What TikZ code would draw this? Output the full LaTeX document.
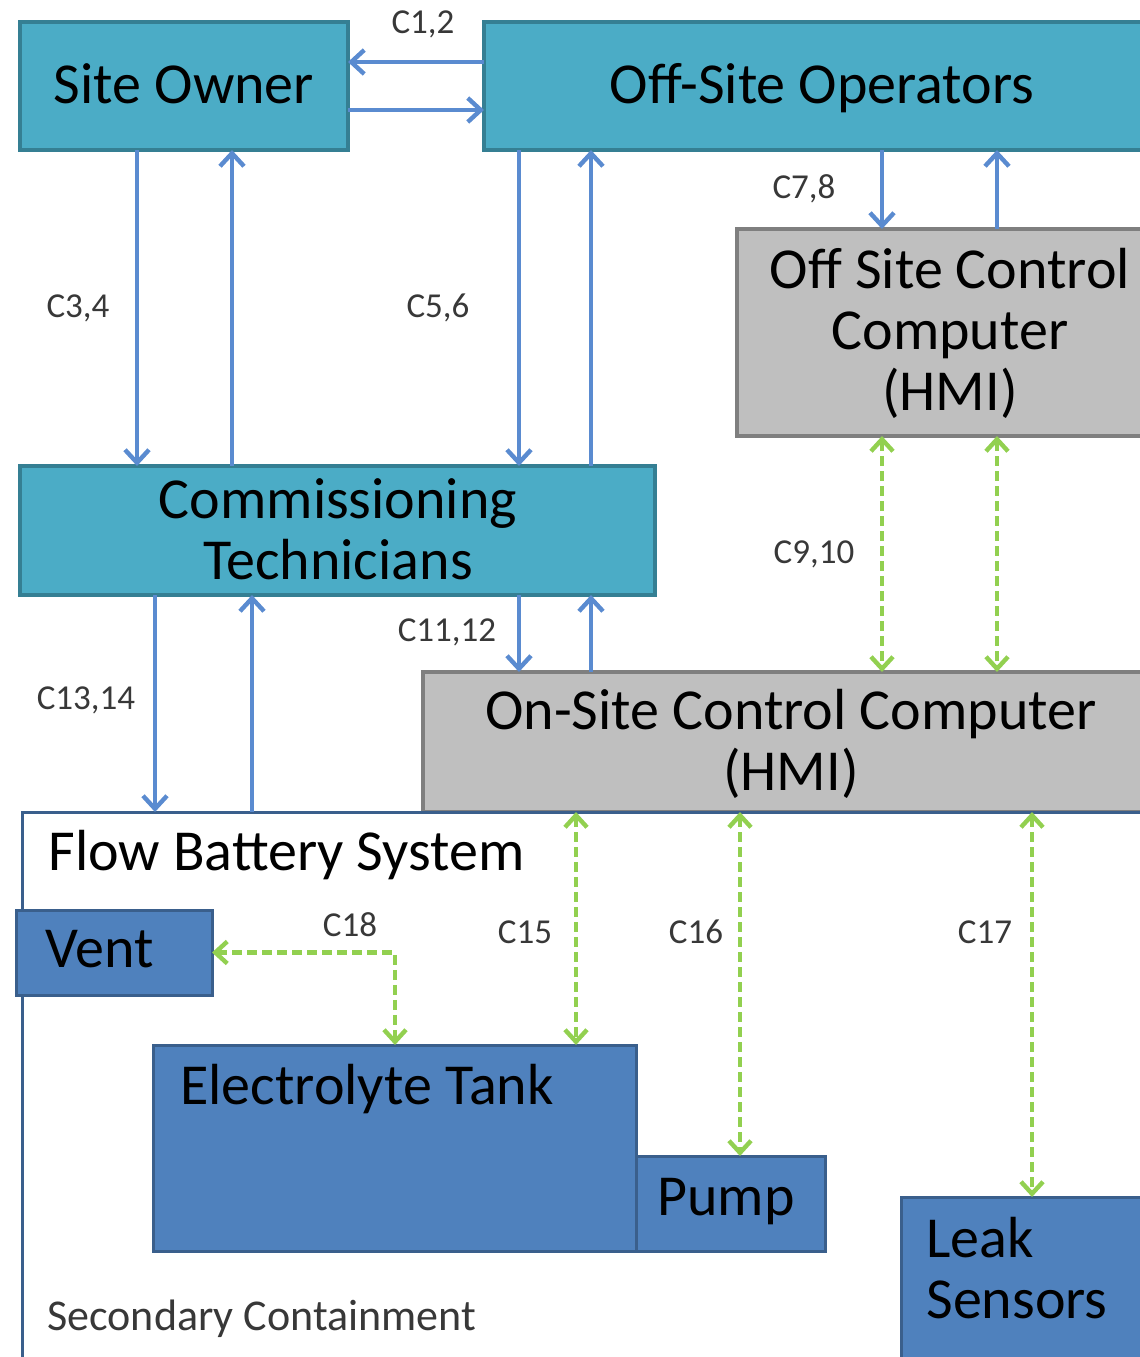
\documentclass[tikz,border=0pt]{standalone}
\usepackage{fontspec}
\setmainfont{Carlito}
\usetikzlibrary{arrows.meta,fit}
\definecolor{teal1}{HTML}{4BACC6}
\definecolor{teal2}{HTML}{357F93}
\definecolor{blue1}{HTML}{4F81BD}
\definecolor{blue2}{HTML}{3A5F8C}
\definecolor{gray1}{HTML}{BFBFBF}
\definecolor{gray2}{HTML}{7F7F7F}
\definecolor{arrowblue}{HTML}{5A8BD0}
\definecolor{green1}{HTML}{92D050}
\definecolor{lab}{HTML}{383838}
\begin{document}
\begin{tikzpicture}[x=0.5pt,y=-0.5pt,
 box/.style={inner sep=0pt, outer sep=0pt, line width=2pt},
 tealbox/.style={box, fill=teal1, draw=teal2},
 graybox/.style={box, fill=gray1, draw=gray2},
 bluebox/.style={box, fill=blue1, draw=blue2, line width=1.5pt},
 txt/.style={inner sep=0pt, anchor=base west, align=left, font=\fontsize{29}{30.5}\selectfont},
 ctxt/.style={inner sep=0pt, anchor=base, align=center, font=\fontsize{29}{30.5}\selectfont},
 lbl/.style={inner sep=0pt, text=lab, font=\fontsize{17.5}{20}\selectfont},
 barrow/.style={draw=arrowblue, line width=2.2pt, -{Straight Barb[length=6.5pt,width=12pt]}},
 garrow/.style={draw=green1, line width=2.2pt, dash pattern=on 5pt off 2.5pt, {Straight Barb[length=6pt,width=11pt]}-{Straight Barb[length=6pt,width=11pt]}},
]
\clip (0,0) rectangle (1140,1357);
\fill[white] (0,0) rectangle (1140,1357);

% column / row helpers
\foreach \x in {137,155,232,252,395,519,576,591,740,882,997,1032}{\coordinate (c\x) at (\x,0);}
\coordinate (r62) at (0,62);
\coordinate (r110) at (0,110);

% boxes
\node[tealbox, fit={(20,22)(348,150)}] (owner) {};
\node[ctxt] (ownertxt) at (184,103) {Site Owner};
\node[tealbox, fit={(484,22)(1160,150)}] (ops) {};
\node[ctxt] (opstxt) at (822,103) {Off-Site Operators};
\node[graybox, fit={(737,229)(1163,436)}] (offcc) {};
\node[ctxt] (offcctxt) at (950,410) {Off Site Control\\Computer\\(HMI)};
\node[tealbox, fit={(20,466)(655,595)}] (comm) {};
\node[ctxt] (commtxt) at (338,579) {Commissioning\\Technicians};
\node[graybox, fit={(423,672)(1159,812)}] (oncc) {};
\node[ctxt] (oncctxt) at (791,790) {On-Site Control Computer\\(HMI)};
\node[draw=blue2, fill=white, line width=1.5pt, inner sep=0pt, outer sep=0pt, fit={(22,812)(1170,1358)}] (fbs) {};
\node[txt] (fbstxt) at (48,870) {Flow Battery System};
\node[bluebox, fit={(16,910)(212,995)}] (vent) {};
\node[txt] (venttxt) at (45,967) {Vent};
\node[bluebox, fit={(153,1045)(636,1251)}] (tank) {};
\node[txt] (tanktxt) at (180,1104) {Electrolyte Tank};
\node[bluebox, fit={(636,1156)(825,1251)}] (pump) {};
\node[ctxt] (pumptxt) at (726,1215) {Pump};
\node[bluebox, fit={(901,1197)(1170,1380)}] (leak) {};
\node[txt] (leaktxt) at (926,1318) {Leak\\Sensors};
\node[inner sep=0pt, anchor=base west, text=lab, font=\fontsize{22}{26}\selectfont] (sec) at (47,1330) {Secondary Containment};

% blue connectors
\draw[barrow] (ops.west |- r62) -- (owner.east |- r62);
\draw[barrow] (owner.east |- r110) -- (ops.west |- r110);
\draw[barrow] (owner.south -| c137) -- (comm.north -| c137);
\draw[barrow] (comm.north -| c232) -- (owner.south -| c232);
\draw[barrow] (ops.south -| c519) -- (comm.north -| c519);
\draw[barrow] (comm.north -| c591) -- (ops.south -| c591);
\draw[barrow] (ops.south -| c882) -- (offcc.north -| c882);
\draw[barrow] (offcc.north -| c997) -- (ops.south -| c997);
\draw[barrow] (comm.south -| c519) -- (oncc.north -| c519);
\draw[barrow] (oncc.north -| c591) -- (comm.south -| c591);
\draw[barrow] (comm.south -| c155) -- (fbs.north -| c155);
\draw[barrow] (fbs.north -| c252) -- (comm.south -| c252);

% green connectors
\draw[garrow] (offcc.south -| c882) -- (oncc.north -| c882);
\draw[garrow] (offcc.south -| c997) -- (oncc.north -| c997);
\draw[garrow] (oncc.south -| c576) -- (tank.north -| c576);
\draw[garrow] (oncc.south -| c740) -- (pump.north -| c740);
\draw[garrow] (oncc.south -| c1032) -- (leak.north -| c1032);
\draw[garrow] (vent.east) -| (tank.north -| c395);

% labels
\node[lbl] (l12) at (423,24) {C1,2};
\node[lbl] (l34) at (78,308) {C3,4};
\node[lbl] (l56) at (438,308) {C5,6};
\node[lbl] (l78) at (804,189) {C7,8};
\node[lbl] (l910) at (814,554) {C9,10};
\node[lbl] (l1112) at (447,632) {C11,12};
\node[lbl] (l1314) at (86,700) {C13,14};
\node[lbl] (l18) at (350,925) {C18};
\node[lbl] (l15) at (525,932) {C15};
\node[lbl] (l16) at (696,932) {C16};
\node[lbl] (l17) at (985,932) {C17};
\end{tikzpicture}
\end{document}
